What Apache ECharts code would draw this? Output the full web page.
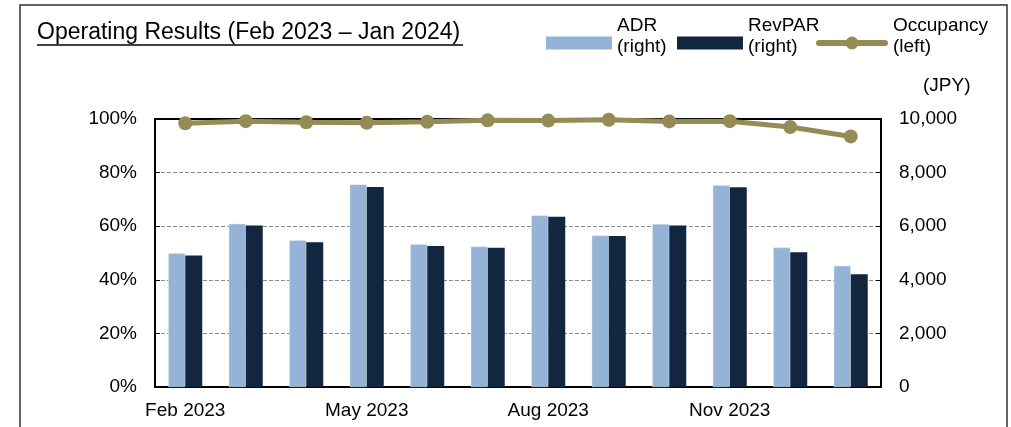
<!DOCTYPE html>
<html>
<head>
<meta charset="utf-8">
<script src="https://cdn.jsdelivr.net/npm/echarts@6/dist/echarts.min.js"></script>
<style>
html,body{margin:0;padding:0;background:#fff;}
#chart{width:1011px;height:427px;}
</style>
</head>
<body>
<div id="chart"></div>
<script>
const categories = ['Feb 2023','Mar 2023','Apr 2023','May 2023','Jun 2023','Jul 2023','Aug 2023','Sep 2023','Oct 2023','Nov 2023','Dec 2023','Jan 2024'];
const adr = [4995, 6090, 5480, 7560, 5330, 5245, 6400, 5655, 6080, 7525, 5205, 4520];
const revpar = [4910, 6030, 5405, 7460, 5265, 5195, 6350, 5630, 6030, 7450, 5030, 4210];
const occupancy = [98.4, 99.2, 98.8, 98.6, 99.0, 99.5, 99.4, 99.7, 99.1, 99.2, 97.0, 93.5];
const leftTicks = {min:0, max:100, interval:20};
const rightTicks = {min:0, max:10000, interval:2000};

const FONT = '"Liberation Sans", Arial, sans-serif';
const ADR_C = '#95B3D7', REV_C = '#12263F', OCC_C = '#958B54';

const OCC_ICON = 'path://M3,3.5 L31,3.5 L31,9.5 L3,9.5 A3,3 0 0 1 3,3.5 Z ' +
  'M41,3.5 L69,3.5 A3,3 0 0 1 69,9.5 L41,9.5 Z ' +
  'M29.5,6.5 A6.5,6.5 0 1 1 42.5,6.5 A6.5,6.5 0 1 1 29.5,6.5 Z';

const chart = echarts.init(document.getElementById('chart'), null, {renderer:'canvas'});
const legendText = {
  fontFamily:FONT, fontSize:19, color:'#000',
  rich:{
    a:{fontFamily:FONT, fontSize:19, color:'#000', lineHeight:21},
    b:{fontFamily:FONT, fontSize:10, lineHeight:14}
  }
};
const legendFmt = name => name.split('\n').map(s => '{a|' + s + '}').join('\n') + '\n{b| }';
const legendBase = {top:16, itemHeight:13, itemGap:0, textStyle:legendText, padding:0, selectedMode:false, formatter:legendFmt};
chart.setOption({
  animation:false,
  textStyle:{fontFamily:FONT},
  grid:{left:155, right:130, top:119, bottom:40, containLabel:false},
  legend:[
    Object.assign({left:546, itemWidth:66, data:[{name:'ADR\n(right)', icon:'rect', itemStyle:{borderWidth:0}}]}, legendBase),
    Object.assign({left:677, itemWidth:66, data:[{name:'RevPAR\n(right)', icon:'rect', itemStyle:{borderWidth:0}}]}, legendBase),
    Object.assign({left:816, itemWidth:72, data:[{name:'Occupancy\n(left)', icon:OCC_ICON, itemStyle:{borderWidth:0}}]}, legendBase)
  ],
  graphic:[
    {type:'rect', shape:{x:20, y:5, width:987, height:440}, style:{fill:'none', stroke:'#333', lineWidth:1.5}, silent:true},
    {type:'text', left:37, top:21, style:{text:'Operating Results (Feb 2023 \u2013 Jan 2024)', font:'23px ' + FONT, fill:'#000'}},
    {type:'line', shape:{x1:37, y1:45, x2:463, y2:45}, style:{stroke:'#000', lineWidth:1.5}}
  ],
  xAxis:[
    {type:'category', data:categories, position:'bottom',
     axisLine:{onZero:false, lineStyle:{color:'#000', width:2}}, axisTick:{show:false},
     axisLabel:{interval:2, color:'#000', fontSize:19, fontFamily:FONT, margin:14}},
    {type:'category', data:categories, position:'top',
     axisLine:{show:true, onZero:false, lineStyle:{color:'#000', width:2}}, axisTick:{show:false}, axisLabel:{show:false}}
  ],
  yAxis:[
    {type:'value', position:'left', min:leftTicks.min, max:leftTicks.max, interval:leftTicks.interval,
     axisLine:{show:true, lineStyle:{color:'#000', width:2}},
     axisTick:{show:true, inside:true, length:5, lineStyle:{color:'#000'}},
     axisLabel:{formatter:'{value}%', color:'#000', fontSize:19, fontFamily:FONT, margin:18},
     splitLine:{show:true, lineStyle:{color:['transparent','#8c8c8c','#8c8c8c','#8c8c8c','#8c8c8c','transparent'], type:[4,2], width:1}}},
    {type:'value', position:'right', min:rightTicks.min, max:rightTicks.max, interval:rightTicks.interval,
     name:'(JPY)', nameLocation:'end', nameGap:24,
     nameTextStyle:{color:'#000', fontSize:19, fontFamily:FONT, align:'left', padding:[0,0,0,42]},
     axisLine:{show:true, lineStyle:{color:'#000', width:2}},
     axisTick:{show:true, inside:true, length:5, lineStyle:{color:'#000'}},
     axisLabel:{formatter:v=>v.toLocaleString('en-US'), color:'#000', fontSize:19, fontFamily:FONT, margin:18},
     splitLine:{show:false}}
  ],
  series:[
    {name:'ADR\n(right)', type:'bar', yAxisIndex:1, data:adr, barWidth:17, barGap:'0%',
     itemStyle:{color:ADR_C, borderColor:'#dbe6f2', borderWidth:0.5}},
    {name:'RevPAR\n(right)', type:'bar', yAxisIndex:1, data:revpar, barWidth:17, barGap:'0%',
     itemStyle:{color:REV_C}},
    {name:'Occupancy\n(left)', type:'line', yAxisIndex:0, data:occupancy, symbol:'circle', symbolSize:14,
     lineStyle:{color:OCC_C, width:5}, itemStyle:{color:OCC_C}, z:5}
  ]
});
</script>
</body>
</html>
